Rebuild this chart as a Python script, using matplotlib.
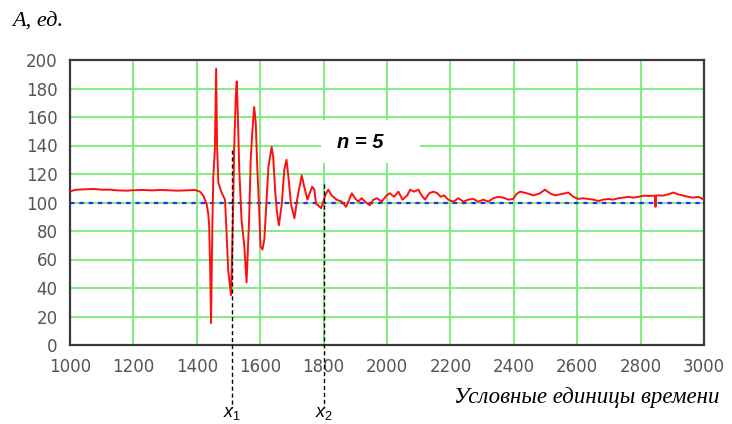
#!/usr/bin/env python3

import matplotlib
matplotlib.use("Agg")
import matplotlib.pyplot as plt
import matplotlib.transforms as mtransforms
from matplotlib.patches import Rectangle

# signal: time (conventional units) vs amplitude
t = [1000, 1010, 1021, 1050, 1074, 1100, 1126, 1150, 1179, 1200, 1231, 1260,
     1284, 1310, 1337, 1365, 1394, 1410, 1420, 1431, 1436, 1439, 1442, 1445,
     1449, 1452, 1457, 1461, 1464, 1468, 1478, 1489, 1494, 1499, 1505, 1508,
     1512, 1515, 1518, 1523, 1526, 1529, 1534, 1541, 1550, 1554, 1557, 1560,
     1565, 1570, 1575, 1581, 1586, 1591, 1596, 1601, 1607, 1613, 1619, 1626,
     1636, 1641, 1647, 1652, 1659, 1668, 1676, 1683, 1689, 1697, 1708, 1718,
     1731, 1739, 1749, 1755, 1764, 1771, 1776, 1783, 1792, 1799, 1807, 1815,
     1825, 1841, 1857, 1871, 1878, 1889, 1899, 1909, 1920, 1931, 1946, 1957,
     1969, 1983, 1999, 2009, 2022, 2036, 2049, 2064, 2073, 2085, 2099, 2109,
     2120, 2133, 2146, 2159, 2169, 2180, 2193, 2209, 2225, 2241, 2256, 2272,
     2288, 2304, 2320, 2335, 2351, 2367, 2383, 2398, 2409, 2420, 2441, 2462,
     2483, 2498, 2514, 2530, 2546, 2562, 2572, 2588, 2603, 2619, 2635, 2651,
     2667, 2682, 2698, 2714, 2730, 2746, 2761, 2777, 2793, 2809, 2824, 2840,
     2845, 2847, 2849, 2856, 2871, 2887, 2903, 2919, 2935, 2950, 2966, 2982,
     2996, 3000]
amp = [107.5, 108.5, 109, 109.3, 109.5, 109, 109, 108.5, 108.3, 108.6, 108.8, 108.5,
       108.8, 108.6, 108.3, 108.5, 108.8, 107.6, 105, 99, 92, 84, 55, 15.4,
       83, 118, 137, 194, 139, 114, 107, 102, 78.6, 52.6, 41, 35,
       69, 102, 139, 174, 185, 165, 123, 88, 69, 55, 44, 60,
       88, 130, 149, 167, 156, 123, 99, 69, 67, 74, 97, 125,
       139, 132, 109, 95, 84, 99, 123, 130, 118, 99, 89, 104,
       119, 111, 102, 106, 111, 109, 99, 98, 96, 100.6, 106, 109,
       105, 102, 100.6, 97, 100.6, 106.5, 103, 100.6, 103, 100.6, 98, 102,
       103, 100.6, 105, 106.5, 104, 107.6, 102, 105, 109, 107.6, 109, 105,
       102, 106.5, 107.6, 106.5, 104, 105, 102, 100.6, 103, 100.6, 102, 102.5,
       100.6, 102, 100.6, 103, 104, 103.4, 102, 102.5, 106, 107.6, 106.5, 105,
       106.5, 109, 106.5, 105, 105.7, 106.5, 107, 104, 102.5, 103, 102.5, 102,
       101, 102, 102.5, 102, 103, 103.4, 104, 103.4, 104, 104.8, 104.6, 104.8,
       104.8, 97, 104.8, 105, 104.8, 105.7, 107, 105.7, 104.8, 104, 103.4, 104,
       102.5, 102]

level = 100
x_ticks = list(range(1000, 3001, 200))
y_ticks = list(range(0, 201, 20))
x1_pos, x1_top = 1510, 137
x2_pos, x2_top = 1800, 113

plt.rcParams['mathtext.fontset'] = 'custom'
plt.rcParams['mathtext.rm'] = 'Liberation Sans'
plt.rcParams['mathtext.it'] = 'Liberation Sans:italic'

fig = plt.figure(figsize=(7.32, 4.24), dpi=100)
ax = fig.add_axes([70 / 732, 1 - 345 / 424, 634 / 732, 285 / 424])

ax.set_xlim(1000, 3000)
ax.set_ylim(0, 200)
ax.set_xticks(x_ticks)
ax.set_yticks(y_ticks)
ax.grid(True, color='#74ee74', linewidth=1.3, zorder=0)
ax.set_axisbelow(True)
ax.tick_params(length=0, labelsize=12, labelcolor='#555555', pad=9)
for s in ax.spines.values():
    s.set_color('#3a3a3a')
    s.set_linewidth(1.6)

# white label box that hides the grid
ax.add_patch(Rectangle((1792, 128), 312, 30, facecolor='white',
                       edgecolor='none', zorder=1.5))
ax.text(1915, 142, 'n = 5', fontsize=14.5, fontweight='bold', fontstyle='italic',
        family='Liberation Sans', ha='center', va='center', zorder=3)

ax.plot([1000, 3000], [level, level], color='#2b2bff', linewidth=1.6,
        linestyle=(0, (2, 2.2)), zorder=2)
ax.plot(t, amp, color='#ff1010', linewidth=1.4, zorder=3)

# marker lines running below the axis, labels at the very bottom
below = mtransforms.blended_transform_factory(ax.transData, fig.transFigure)
for xp, top, lab in [(x1_pos, x1_top, r'$x_1$'), (x2_pos, x2_top, r'$x_2$')]:
    ax.plot([xp, xp], [top, -44], color='black', linewidth=1.0,
            linestyle=(0, (3, 2)), clip_on=False, zorder=4)
    ax.text(xp, 2 / 424, lab, fontsize=13, ha='center', va='bottom',
            transform=below)

fig.text(12 / 732, 1 - 22 / 424, 'A, ед.', family='Liberation Serif',
         fontstyle='italic', fontsize=16, ha='left', va='center')
fig.text(720 / 732, 1 - 397 / 424, 'Условные единицы времени',
         family='Liberation Serif', fontstyle='italic', fontsize=16.5,
         ha='right', va='center')

fig.savefig('out.png', dpi=100)
